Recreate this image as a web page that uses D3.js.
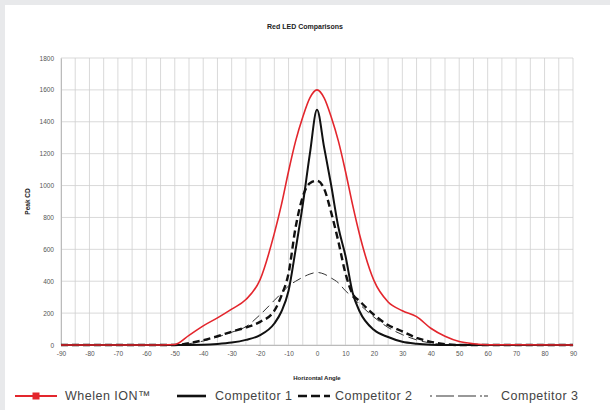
<!DOCTYPE html>
<html>
<head>
<meta charset="utf-8">
<script src="https://cdn.jsdelivr.net/npm/d3@7"></script>
<style>
  body { margin: 0; background: #e8e9eb; }
  text { font-family: "Liberation Sans", Arial, sans-serif; }
</style>
</head>
<body>
<div id="app"></div>
<script>
'use strict'
// angles and peak candela readings
const angles = [-90, -60, -55, -50, -45, -40, -35, -30, -25, -20, -15, -12.5, -10, -7.5, -5, -2.5, 0, 2.5, 5, 7.5, 10, 12.5, 15, 20, 25, 30, 35, 40, 45, 50, 55, 60, 90]
const whelen = [0, 0, 0, 3, 60, 120, 170, 225, 285, 410, 700, 880, 1090, 1280, 1430, 1550, 1600, 1550, 1430, 1280, 1090, 880, 690, 405, 270, 215, 178, 105, 55, 22, 8, 2, 0]
const comp1 = [0, 0, 0, 0, 0, 1, 6, 15, 32, 62, 135, 210, 340, 600, 880, 1200, 1475, 1240, 1000, 740, 560, 330, 210, 95, 50, 20, 8, 2, 0, 0, 0, 0, 0]
const comp2 = [0, 0, 0, 0, 12, 30, 55, 83, 110, 145, 215, 310, 450, 740, 930, 1015, 1030, 980, 830, 650, 450, 320, 275, 190, 125, 85, 45, 20, 5, 0, 0, 0, 0]
const comp3 = [0, 0, 0, 0, 8, 25, 50, 80, 115, 190, 280, 325, 370, 400, 425, 445, 455, 445, 420, 390, 340, 300, 255, 175, 110, 65, 32, 12, 3, 0, 0, 0, 0]

const xTicks = d3.range(-90, 91, 10)
const yTicks = d3.range(0, 1801, 200)

const series = [
  { name: 'Whelen ION\u2122', values: whelen, color: '#e3262d', width: 1.6, dash: null },
  { name: 'Competitor 1', values: comp1, color: '#111', width: 2, dash: null },
  { name: 'Competitor 2', values: comp2, color: '#111', width: 2.4, dash: '7,4' },
  { name: 'Competitor 3', values: comp3, color: '#333', width: 1, dash: '9,5' }
]

const W = 610, H = 410
const margin = { top: 58, right: 37, bottom: 65, left: 61 }
const width = W - margin.left - margin.right
const height = H - margin.top - margin.bottom

const svg = d3.select('#app').append('svg')
  .attr('width', W)
  .attr('height', H)

svg.append('rect')
  .attr('x', 5).attr('y', 5)
  .attr('width', W - 5).attr('height', H - 5)
  .attr('fill', '#fff')

const g = svg.append('g')
  .attr('transform', `translate(${margin.left},${margin.top})`)

const x = d3.scaleLinear().domain([-90, 90]).range([0, width])
const y = d3.scaleLinear().domain([0, 1800]).range([height, 0])

// grid
g.append('g').selectAll('line')
  .data(d3.range(-90, 91, 5))
  .enter().append('line')
  .attr('x1', d => x(d)).attr('x2', d => x(d))
  .attr('y1', 0).attr('y2', height)
  .attr('stroke', '#cfcfcf').attr('stroke-width', 0.8)

g.append('g').selectAll('line')
  .data(yTicks)
  .enter().append('line')
  .attr('x1', 0).attr('x2', width)
  .attr('y1', d => y(d)).attr('y2', d => y(d))
  .attr('stroke', '#cfcfcf').attr('stroke-width', 0.8)

// axes
const xAxis = g.append('g')
  .attr('transform', `translate(0,${height})`)
  .call(d3.axisBottom(x).tickValues(xTicks).tickFormat(d => String(d)).tickSize(0).tickPadding(6))
const yAxis = g.append('g')
  .call(d3.axisLeft(y).tickValues(yTicks).tickFormat(d => String(d)).tickSize(0).tickPadding(7))

;[xAxis, yAxis].forEach(a => {
  a.select('.domain').attr('stroke', '#bbb')
  a.selectAll('text').attr('fill', '#555').style('font-size', '6.5px')
})

// curves
const line = d3.line()
  .x((d, i) => x(angles[i]))
  .y(d => y(d))
  .curve(d3.curveMonotoneX)

g.selectAll('.series')
  .data(series.slice().reverse())
  .enter().append('path')
  .attr('class', 'series')
  .attr('d', d => line(d.values))
  .attr('fill', 'none')
  .attr('stroke', d => d.color)
  .attr('stroke-width', d => d.width)
  .attr('stroke-dasharray', d => d.dash)

// titles
svg.append('text')
  .attr('x', 305).attr('y', 29)
  .attr('text-anchor', 'middle')
  .style('font-size', '7px').style('font-weight', 'bold')
  .attr('fill', '#222')
  .text('Red LED Comparisons')

svg.append('text')
  .attr('transform', `translate(30,${margin.top + height / 2}) rotate(-90)`)
  .attr('text-anchor', 'middle')
  .style('font-size', '6.5px').style('font-weight', 'bold')
  .attr('fill', '#222')
  .text('Peak CD')

svg.append('text')
  .attr('x', margin.left + width / 2).attr('y', 380)
  .attr('text-anchor', 'middle')
  .style('font-size', '6px').style('font-weight', 'bold')
  .attr('fill', '#222')
  .text('Horizontal Angle')

// legend
const legendX = [{ a: 15, b: 57, t: 65 }, { a: 177, b: 206, t: 215 }, { a: 298, b: 330, t: 335 }, { a: 430, b: 495, t: 501 }]
const ly = 396
const lg = svg.append('g')
series.forEach((s, i) => {
  const p = legendX[i]
  lg.append('line')
    .attr('x1', p.a).attr('x2', p.b)
    .attr('y1', ly).attr('y2', ly)
    .attr('stroke', s.color)
    .attr('stroke-width', i === 0 ? 2.2 : (i === 3 ? 1.2 : 2.6))
    .attr('stroke-dasharray', i === 2 ? '9,4' : (i === 3 ? '2,4,18,4,18,4,2' : null))
  if (i === 0) {
    lg.append('rect')
      .attr('x', (p.a + p.b) / 2 - 3.5).attr('y', ly - 3.5)
      .attr('width', 7).attr('height', 7)
      .attr('fill', s.color)
  }
  lg.append('text')
    .attr('x', p.t).attr('y', ly + 4)
    .style('font-size', '12.5px')
    .style('letter-spacing', '0.5px')
    .attr('fill', '#444')
    .text(s.name)
})
</script>
</body>
</html>
